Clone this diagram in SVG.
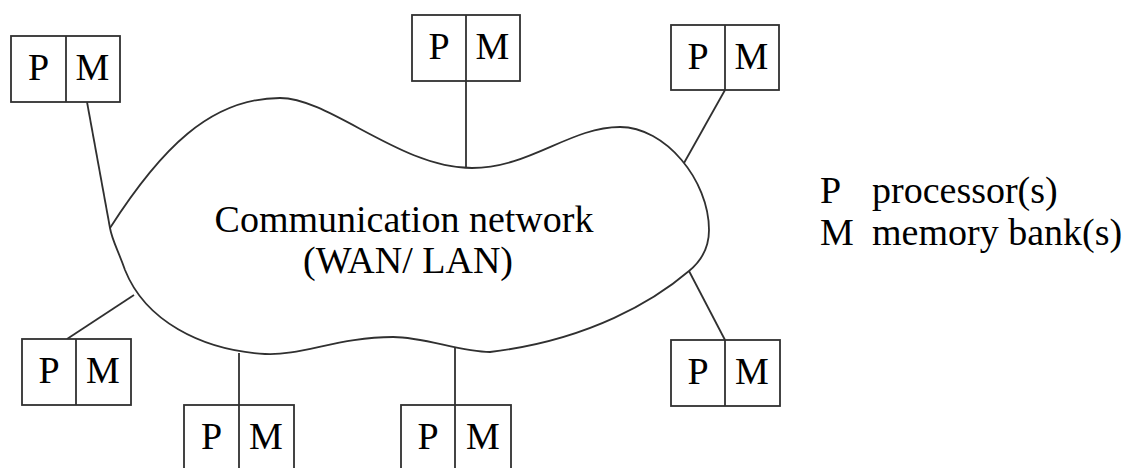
<svg xmlns="http://www.w3.org/2000/svg" width="1128" height="468" viewBox="0 0 1128 468">
<defs>
<style>
.box{fill:#fff;stroke:#303030;stroke-width:1.8}
.ln{fill:none;stroke:#303030;stroke-width:1.8}
.t{font-family:"Liberation Serif","Times New Roman","DejaVu Serif",serif;font-size:38px;fill:#000}
.c{text-anchor:middle}
</style>
</defs>
<rect width="1128" height="468" fill="#fff"/>
<g id="cloud">
<path class="ln" d="M110,228 C160,150 210,98 280,98 C330,98 400,168 472,168 C530,168 570,127 620,127 C665,127 709,180 709,230 C709,250 700,262 689,271 C655,300 590,340 490,352 C460,352 425,337 393,337 C340,337 300,356 265,354 C200,350 145,320 125,270 C118,250 112,240 110,228 Z"/>
<text class="t c" x="404" y="232">Communication network</text>
<text class="t c" x="408" y="273">(WAN/ LAN)</text>
</g>
<g id="connectors">
<line class="ln" x1="87" y1="102" x2="110" y2="228"/>
<line class="ln" x1="466" y1="81" x2="466" y2="167"/>
<line class="ln" x1="725" y1="90" x2="684" y2="163"/>
<line class="ln" x1="689" y1="271" x2="725" y2="340"/>
<line class="ln" x1="134" y1="295" x2="67" y2="339"/>
<line class="ln" x1="239" y1="353" x2="239" y2="405"/>
<line class="ln" x1="455" y1="347" x2="455" y2="405"/>
</g>
<g id="node1">
<rect class="box" x="11" y="36" width="109" height="66"/>
<line class="ln" x1="66" y1="36" x2="66" y2="102"/>
<text class="t c" x="38.5" y="80">P</text>
<text class="t c" x="92.5" y="80">M</text>
</g>
<g id="node2">
<rect class="box" x="412" y="15" width="108" height="66"/>
<line class="ln" x1="466" y1="15" x2="466" y2="81"/>
<text class="t c" x="439" y="59">P</text>
<text class="t c" x="492.5" y="59">M</text>
</g>
<g id="node3">
<rect class="box" x="671" y="25" width="108" height="65"/>
<line class="ln" x1="725" y1="25" x2="725" y2="90"/>
<text class="t c" x="698" y="69">P</text>
<text class="t c" x="751.5" y="69">M</text>
</g>
<g id="node4">
<rect class="box" x="671" y="340" width="109" height="66"/>
<line class="ln" x1="725" y1="340" x2="725" y2="406"/>
<text class="t c" x="698" y="384">P</text>
<text class="t c" x="752" y="384">M</text>
</g>
<g id="node5">
<rect class="box" x="22" y="339" width="109" height="66"/>
<line class="ln" x1="76" y1="339" x2="76" y2="405"/>
<text class="t c" x="49" y="383">P</text>
<text class="t c" x="103" y="383">M</text>
</g>
<g id="node6">
<rect class="box" x="184" y="405" width="110" height="66"/>
<line class="ln" x1="239" y1="405" x2="239" y2="471"/>
<text class="t c" x="211.5" y="449">P</text>
<text class="t c" x="266" y="449">M</text>
</g>
<g id="node7">
<rect class="box" x="401" y="405" width="110" height="66"/>
<line class="ln" x1="455" y1="405" x2="455" y2="471"/>
<text class="t c" x="428" y="449">P</text>
<text class="t c" x="483" y="449">M</text>
</g>
<g id="legend">
<text class="t" x="820" y="203">P</text>
<text class="t" x="872" y="203">processor(s)</text>
<text class="t" x="820" y="245">M</text>
<text class="t" x="872" y="245">memory bank(s)</text>
</g>
</svg>
